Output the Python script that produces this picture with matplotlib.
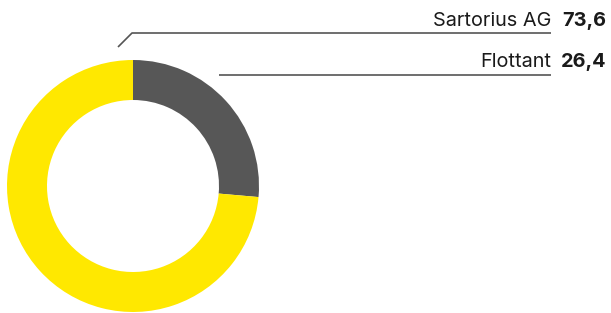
import matplotlib
matplotlib.use("Agg")
import matplotlib.pyplot as plt

labels = ["Flottant", "Sartorius AG"]
values = [26.4, 73.6]
value_texts = ["26,4", "73,6"]
colors = ["#575757", "#FFE800"]

W, H = 611, 313
fig = plt.figure(figsize=(W / 100, H / 100), dpi=100)
ax = fig.add_axes([0, 0, 1, 1])

cx, cy, R, ring = 133, H - 186, 126, 40
ax.pie(values, colors=colors, startangle=90, counterclock=False,
       center=(cx, cy), radius=R,
       wedgeprops=dict(width=ring, linewidth=0, edgecolor="none"))
ax.set_xlim(0, W)
ax.set_ylim(0, H)
ax.set_aspect("equal")
ax.axis("off")

line_color = "#555555"
# Sartorius AG leader line
ax.plot([118, 132, 551], [H - 47, H - 33, H - 33], color=line_color, lw=1.2,
        solid_capstyle="butt")
# Flottant leader line
ax.plot([219, 551], [H - 75, H - 75], color=line_color, lw=1.2,
        solid_capstyle="butt")

font = "Inter"
fs = 14.3
rows = [("Sartorius AG", 25.7), ("Flottant", 66.7)]
for name, base in rows:
    i = labels.index(name)
    ax.text(551, H - base, name, ha="right", va="baseline", fontsize=fs,
            family=font, color="#1a1a1a")
    ax.text(606, H - base, value_texts[i], ha="right", va="baseline", fontsize=fs,
            family=font, fontweight="bold", color="#1a1a1a")

fig.savefig("out.png", dpi=100)
